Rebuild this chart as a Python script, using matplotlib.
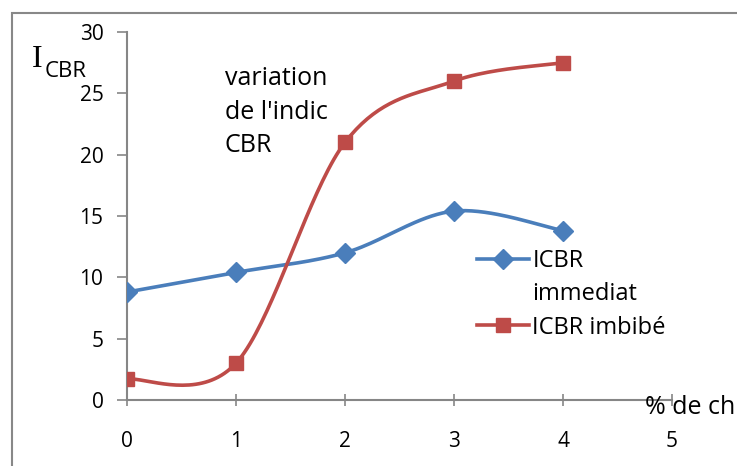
import numpy as np
import matplotlib.pyplot as plt
from matplotlib.patches import Rectangle

plt.rcParams['font.family'] = ['Open Sans', 'DejaVu Sans']

x = [0, 1, 2, 3, 4]
icbr_immediat = [8.8, 10.4, 12.0, 15.4, 13.8]
icbr_imbibe = [1.7, 3.0, 21.0, 26.0, 27.5]
xticks = [0, 1, 2, 3, 4, 5]
yticks = [0, 5, 10, 15, 20, 25, 30]


def smooth(xs, ys, n=40):
    # lissage facon Excel (bezier, tension 1/6)
    P = np.column_stack([xs, ys]).astype(float)
    m = len(P)
    out = []
    for i in range(m - 1):
        p0 = P[i]
        p3 = P[i + 1]
        pm = P[i - 1] if i > 0 else P[i]
        pn = P[i + 2] if i + 2 < m else P[i + 1]
        c1 = p0 + (p3 - pm) / 6
        c2 = p3 - (pn - p0) / 6
        t = np.linspace(0, 1, n)[:, None]
        seg = (1 - t)**3 * p0 + 3 * (1 - t)**2 * t * c1 + 3 * (1 - t) * t**2 * c2 + t**3 * p3
        out.append(seg)
    c = np.vstack(out)
    return c[:, 0], c[:, 1]


fig = plt.figure(figsize=(7.37, 4.66), dpi=100)
ax = fig.add_axes([127/737, 66/466, 545/737, 368/466])

blue = '#4A7EBB'
red = '#BE4B48'

sx, sy = smooth(x, icbr_immediat)
ax.plot(sx, sy, color=blue, lw=2.6, zorder=3)
ax.plot(x, icbr_immediat, ls='none', marker='D', ms=10, color=blue, zorder=4)
sx, sy = smooth(x, icbr_imbibe)
ax.plot(sx, sy, color=red, lw=2.6, zorder=3)
ax.plot(x, icbr_imbibe, ls='none', marker='s', ms=10, color=red, zorder=4)

ax.set_xlim(0, 5)
ax.set_ylim(0, 30)
ax.set_xticks(xticks)
ax.set_yticks(yticks)
for s in ['top', 'right']:
    ax.spines[s].set_visible(False)
for s in ['left', 'bottom']:
    ax.spines[s].set_color('#868686')
    ax.spines[s].set_linewidth(1.5)
ax.tick_params(axis='x', direction='inout', length=9, width=1.2, color='#868686',
               labelsize=15, pad=18)
ax.tick_params(axis='y', direction='out', length=7, width=1.2, color='#868686',
               labelsize=15, pad=10)

# legende (le libelle "immediat" passe a la ligne comme dans Excel)
h1, = ax.plot([], [], color=blue, lw=2.6, marker='D', ms=10)
h0, = ax.plot([], [], color='none')
h2, = ax.plot([], [], color=red, lw=2.6, marker='s', ms=10)
leg = fig.legend([h1, h0, h2], ['ICBR', 'immediat', 'ICBR imbibé'], loc='upper left',
                 bbox_to_anchor=(465/737, 1 - 237/466), frameon=False, fontsize=17,
                 handlelength=2.2, handletextpad=0.15, labelspacing=0.4, borderpad=0)

fig.text(225/737, 1 - 66/466, "variation\nde l'indic\nCBR", fontsize=18,
         va='top', ha='left', linespacing=1.45)
fig.text(32/737, 1 - 67/466, 'I', family='Liberation Serif', fontsize=23,
         va='baseline', ha='left')
fig.text(45/737, 1 - 77/466, 'CBR', fontsize=16, va='baseline', ha='left')
fig.text(645/737, 1 - 414/466, '% de ch', fontsize=18, va='baseline', ha='left')

fig.patches.append(Rectangle((12/737, -0.2), 1.0, 1.2 - 13/466, transform=fig.transFigure,
                             fill=False, edgecolor='#888888', lw=1.5))

fig.savefig('out.png', dpi=100)
